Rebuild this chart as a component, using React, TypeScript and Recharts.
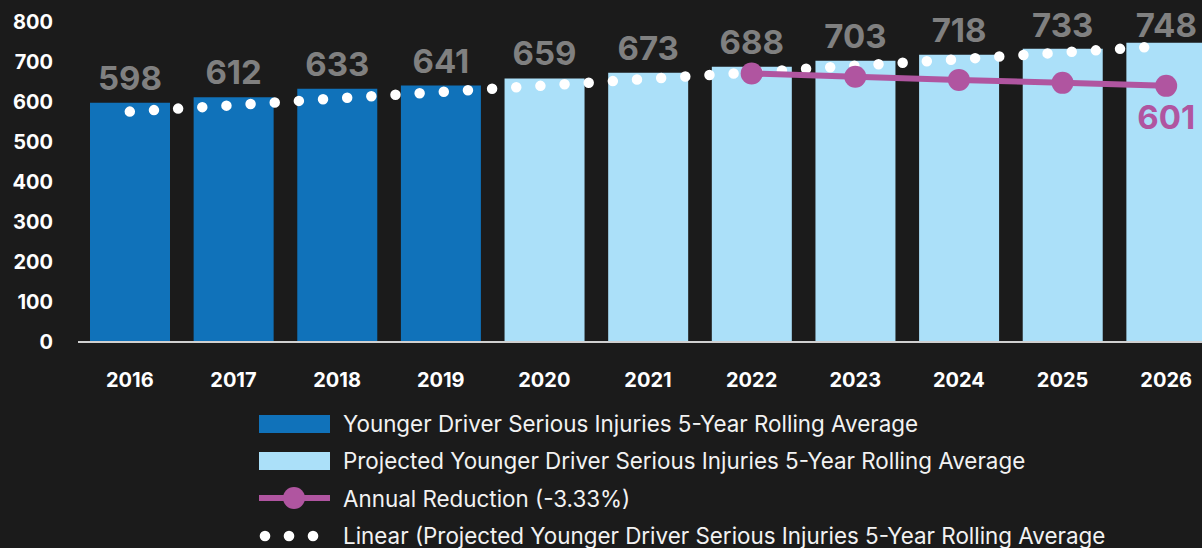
import React from 'react';
import { ComposedChart, Bar, Line, XAxis, YAxis, Legend, LabelList } from 'recharts';

// Younger driver serious injuries, 5-year rolling average
const years = ['2016', '2017', '2018', '2019', '2020', '2021', '2022', '2023', '2024', '2025', '2026'];
const actual = [598, 612, 633, 641, null, null, null, null, null, null, null];
const projected = [null, null, null, null, 659, 673, 688, 703, 718, 733, 748];
const reduction = [null, null, null, null, null, null, 688, 665, 643, 622, 601];
const trend = [576, 592, 609, 625, 641, 658, 674, 691, 707, 724, 740];
const yTicks = [0, 100, 200, 300, 400, 500, 600, 700, 800];

const data = years.map((year, i) => ({
    year,
    actual: actual[i],
    projected: projected[i],
    reduction: reduction[i],
    trend: trend[i],
}));

const BG = '#1b1b1b';
const DARK_BLUE = '#1072ba';
const LIGHT_BLUE = '#abe0f9';
const PURPLE = '#b055a0';
const FONT = 'Inter, "Noto Sans", sans-serif';

const barLabel = (props: any) => {
    const { x, y, width, value } = props;
    let v = value;
    if (Array.isArray(v)) v = v[1] - v[0];
    if (v == null || !Number(v)) return null;
    const ty = Math.max(Number(y) - 13, 37);
    return (
        <text x={Number(x) + Number(width) / 2} y={ty} textAnchor="middle" fill="#808080"
            fontSize={33} fontWeight={700} fontFamily={FONT}>
            {v}
        </text>
    );
};

const reductionLabel = (props: any) => {
    const { x, y, value } = props;
    if (value !== reduction[reduction.length - 1]) return null;
    return (
        <text x={x} y={Number(y) + 43} textAnchor="middle" fill={PURPLE}
            fontSize={33} fontWeight={700} fontFamily={FONT}>
            {value}
        </text>
    );
};

const legendRows = [
    { kind: 'rect', color: DARK_BLUE, label: 'Younger Driver Serious Injuries 5-Year Rolling Average' },
    { kind: 'rect', color: LIGHT_BLUE, label: 'Projected Younger Driver Serious Injuries 5-Year Rolling Average' },
    { kind: 'line', color: PURPLE, label: 'Annual Reduction (-3.33%)' },
    { kind: 'dots', color: '#ffffff', label: 'Linear (Projected Younger Driver Serious Injuries 5-Year Rolling Average' },
];

const LegendContent = () => (
    <div style={{ fontFamily: FONT, fontSize: 22.4, color: '#f2f2f2' }}>
        {legendRows.map((r) => (
            <div key={r.label} style={{ display: 'flex', alignItems: 'center', height: 37.3, whiteSpace: 'nowrap' }}>
                <svg width={72} height={24} style={{ marginRight: 13 }}>
                    {r.kind === 'rect' && <rect x={1} y={3} width={71} height={18} fill={r.color} />}
                    {r.kind === 'line' && (
                        <>
                            <line x1={1} y1={12} x2={72} y2={12} stroke={r.color} strokeWidth={6} />
                            <circle cx={36} cy={12} r={11} fill={r.color} />
                        </>
                    )}
                    {r.kind === 'dots' && [7, 31, 55].map((cx) => <circle key={cx} cx={cx} cy={12} r={5.3} fill={r.color} />)}
                </svg>
                <span>{r.label}</span>
            </div>
        ))}
    </div>
);

const App: React.FC = () => {
    return (
        <div style={{ position: 'absolute', left: 0, top: 0, width: 1202, height: 548, overflow: 'hidden', background: BG }}>
            <ComposedChart width={1218} height={548} data={data}
                margin={{ top: 22, right: 0, left: 0, bottom: 146 }}>
                <XAxis dataKey="year" axisLine={{ stroke: '#d0d0d0', strokeWidth: 2 }} tickLine={false}
                    tickSize={0} tickMargin={31} height={60} interval={0}
                    tick={{ fill: '#ffffff', fontSize: 20, fontWeight: 700, fontFamily: FONT }} />
                <YAxis yAxisId="left" domain={[0, 800]} ticks={yTicks} axisLine={false} tickLine={false}
                    tickSize={0} tickMargin={25} width={78} interval={0}
                    tick={{ fill: '#ffffff', fontSize: 20, fontWeight: 700, fontFamily: FONT }} />
                <YAxis yAxisId="right" orientation="right" domain={[-1200, 1050]} hide />
                <Legend content={LegendContent} layout="vertical" align="center" verticalAlign="middle"
                    wrapperStyle={{ top: 405, left: 258, width: 940 }} />
                <Bar yAxisId="left" dataKey="actual" stackId="a" fill={DARK_BLUE} barSize={80} isAnimationActive={false}>
                    <LabelList dataKey="actual" content={barLabel} />
                </Bar>
                <Bar yAxisId="left" dataKey="projected" stackId="a" fill={LIGHT_BLUE} barSize={80} isAnimationActive={false}>
                    <LabelList dataKey="projected" content={barLabel} />
                </Bar>
                <Line yAxisId="left" dataKey="trend" stroke="#ffffff" strokeWidth={10.5} strokeDasharray="0 24.2"
                    strokeLinecap="round" dot={false} activeDot={false} isAnimationActive={false} />
                <Line yAxisId="right" dataKey="reduction" stroke={PURPLE} strokeWidth={6}
                    dot={{ r: 11, fill: PURPLE, stroke: 'none' }} activeDot={false} isAnimationActive={false}>
                    <LabelList dataKey="reduction" content={reductionLabel} />
                </Line>
            </ComposedChart>
        </div>
    );
};

export default App;
